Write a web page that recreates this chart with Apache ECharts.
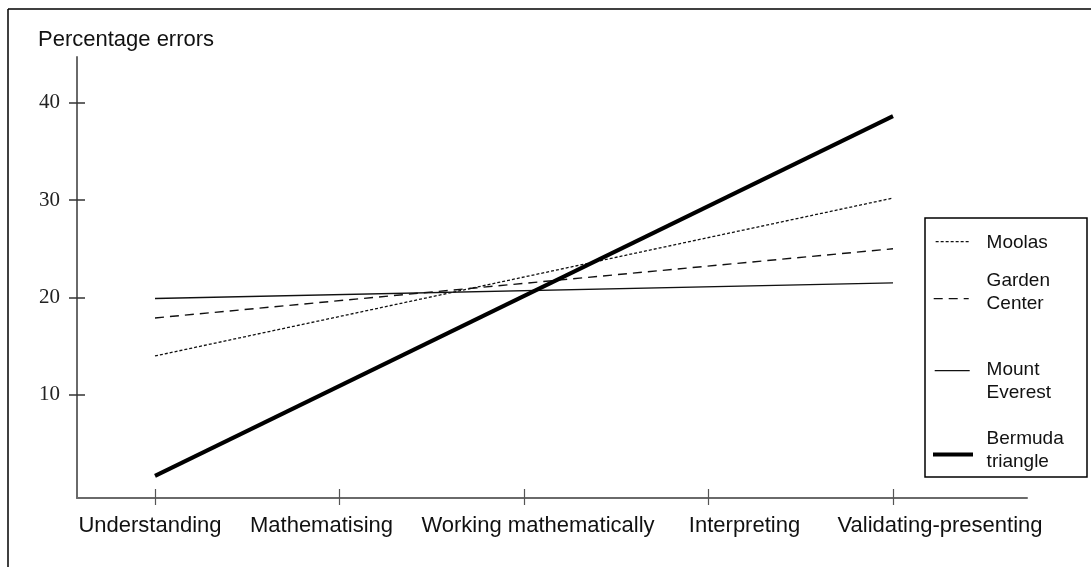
<!DOCTYPE html>
<html>
<head>
<meta charset="utf-8">
<script src="https://cdn.jsdelivr.net/npm/echarts@6/dist/echarts.min.js"></script>
<style>html,body{margin:0;padding:0;background:#fff}#c{width:1091px;height:567px}</style>
</head>
<body>
<div id="c"></div>
<script>
// ---- data ----
const categories = ['Understanding', 'Mathematising', 'Working mathematically', 'Interpreting', 'Validating-presenting'];
const moolas = [14.0, null, null, null, 30.2];
const gardenCenter = [17.9, null, null, null, 25.0];
const mountEverest = [19.9, null, null, null, 21.5];
const bermudaTriangle = [1.7, null, null, null, 38.6];
const yTickValues = [10, 20, 30, 40];
const seriesNames = ['Moolas', 'Garden\nCenter', 'Mount\nEverest', 'Bermuda\ntriangle'];
const yLabel = 'Percentage errors';

// ---- layout ----
const Y_MIN = -0.57, Y_MAX = 44.67;
const SANS = 'Liberation Sans, Arial, sans-serif';
const SERIF = 'Liberation Serif, Times New Roman, serif';
const XFONT = 22;
const LH = 23;
const chart = echarts.init(document.getElementById('c'), null, { renderer: 'canvas' });

// legend sample line only (no text)
function legendIcon(name, left, width, iconY, lw) {
  return {
    data: [name], orient: 'vertical', left: left, top: iconY - 7,
    itemWidth: width, itemHeight: 14, padding: 0, selectedMode: false,
    itemStyle: { opacity: 0 },
    lineStyle: { width: lw },
    formatter: function () { return ''; },
    textStyle: { fontSize: 10, lineHeight: 14 }
  };
}
// legend text only (no sample line)
function legendText(name, textY, lines) {
  return {
    data: [name], orient: 'vertical', left: 976, top: textY - LH * lines / 2,
    itemWidth: 0, itemHeight: 14, padding: 0, selectedMode: false,
    itemStyle: { opacity: 0 }, lineStyle: { opacity: 0 },
    textStyle: { fontFamily: SANS, fontSize: 19, color: '#111', lineHeight: LH }
  };
}

// horizontal nudges of the category labels relative to their ticks
const labelShift = [-5, -18, 14, 36, 47];
const rich = {};
labelShift.forEach(function (s, i) {
  rich['l' + i] = { fontFamily: SANS, fontSize: XFONT, color: '#111',
                    padding: [0, s < 0 ? -2 * s : 0, 0, s > 0 ? 2 * s : 0] };
});

const option = {
  animation: false,
  backgroundColor: '#fff',
  title: { text: yLabel, left: 38, top: 29, padding: 0,
           textStyle: { fontFamily: SANS, fontSize: 22, fontWeight: 'normal', color: '#111' } },
  grid: [
    { left: 77, right: 64, top: 57, bottom: 69 },
    { left: 155, right: 198, top: 57, bottom: 69 }
  ],
  xAxis: [
    { gridIndex: 0, type: 'value', min: 0, max: 1,
      axisLine: { onZero: false, lineStyle: { color: '#6a6a6a', width: 2 } },
      axisTick: { show: false }, axisLabel: { show: false }, splitLine: { show: false } },
    { gridIndex: 1, type: 'category', data: categories, boundaryGap: false,
      axisLine: { show: false, onZero: false },
      axisTick: { show: true, inside: false, length: 7, lineStyle: { color: '#555', width: 1.2 } },
      axisLabel: { margin: 17, fontFamily: SANS, fontSize: XFONT, color: '#111', interval: 0,
                   formatter: function (v, i) { return '{l' + i + '|' + v + '}'; }, rich: rich },
      splitLine: { show: false } },
    { gridIndex: 1, type: 'category', data: categories, boundaryGap: false, position: 'bottom',
      axisLine: { show: false, onZero: false },
      axisTick: { show: true, inside: true, length: 9, lineStyle: { color: '#555', width: 1.2 } },
      axisLabel: { show: false }, splitLine: { show: false } }
  ],
  yAxis: [
    { gridIndex: 0, type: 'value', min: Y_MIN, max: Y_MAX,
      axisLine: { show: true, onZero: false, lineStyle: { color: '#6a6a6a', width: 2 } },
      axisTick: { show: true, inside: false, length: 8, customValues: yTickValues, lineStyle: { color: '#333', width: 1.5 } },
      axisLabel: { show: true, margin: 17, customValues: yTickValues, fontFamily: SERIF, fontSize: 21, color: '#222' },
      splitLine: { show: false } },
    { gridIndex: 0, type: 'value', min: Y_MIN, max: Y_MAX, position: 'left',
      axisLine: { show: false, onZero: false },
      axisTick: { show: true, inside: true, length: 8, customValues: yTickValues, lineStyle: { color: '#333', width: 1.5 } },
      axisLabel: { show: false }, splitLine: { show: false } },
    { gridIndex: 1, type: 'value', min: Y_MIN, max: Y_MAX, show: false }
  ],
  legend: [
    legendIcon(seriesNames[0], 935, 33, 243, 1.3),
    legendIcon(seriesNames[1], 933, 35, 300, 1.4),
    legendIcon(seriesNames[2], 934, 35, 372, 1.4),
    legendIcon(seriesNames[3], 931, 40, 456, 4),
    legendText(seriesNames[0], 243, 1),
    legendText(seriesNames[1], 292.5, 2),
    legendText(seriesNames[2], 381.5, 2),
    legendText(seriesNames[3], 450, 2)
  ],
  graphic: [
    { type: 'line', shape: { x1: 8, y1: 9, x2: 1091, y2: 9 }, style: { stroke: '#000', lineWidth: 1.5 } },
    { type: 'line', shape: { x1: 8, y1: 9, x2: 8, y2: 567 }, style: { stroke: '#000', lineWidth: 1.5 } },
    { type: 'rect', shape: { x: 925, y: 218, width: 162, height: 259 }, style: { fill: '#fff', stroke: '#000', lineWidth: 1.5 }, z: 0 }
  ],
  series: [
    { name: seriesNames[0], type: 'line', xAxisIndex: 1, yAxisIndex: 2, data: moolas, connectNulls: true,
      symbol: 'none', silent: true, z: 3, lineStyle: { color: '#111', width: 1.3, type: [3, 2] } },
    { name: seriesNames[1], type: 'line', xAxisIndex: 1, yAxisIndex: 2, data: gardenCenter, connectNulls: true,
      symbol: 'none', silent: true, z: 3, lineStyle: { color: '#111', width: 1.4, type: [9, 6] } },
    { name: seriesNames[2], type: 'line', xAxisIndex: 1, yAxisIndex: 2, data: mountEverest, connectNulls: true,
      symbol: 'none', silent: true, z: 3, lineStyle: { color: '#111', width: 1.4, type: 'solid' } },
    { name: seriesNames[3], type: 'line', xAxisIndex: 1, yAxisIndex: 2, data: bermudaTriangle, connectNulls: true,
      symbol: 'none', silent: true, z: 4, lineStyle: { color: '#000', width: 4, type: 'solid' } }
  ]
};
chart.setOption(option);
</script>
</body>
</html>
